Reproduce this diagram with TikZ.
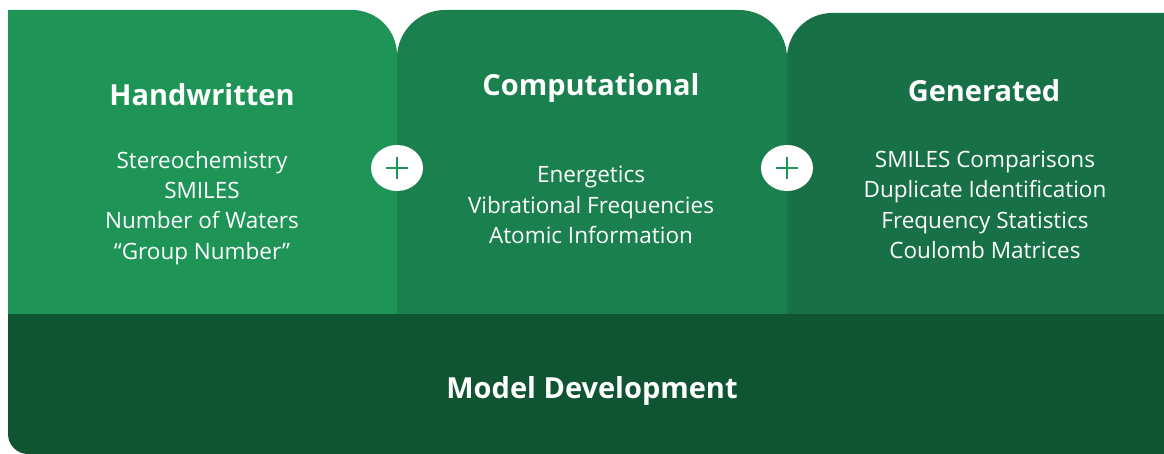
\documentclass[tikz,border=0pt]{standalone}
\usepackage{fontspec}
\setmainfont{Open Sans}
\usepackage{tikz}

\definecolor{handgreen}{RGB}{30,148,87}
\definecolor{compgreen}{RGB}{26,128,78}
\definecolor{gengreen}{RGB}{23,112,70}
\definecolor{modelgreen}{RGB}{15,85,50}

\begin{document}
\begin{tikzpicture}[x=1pt,y=-1pt,
  title/.style={text=white,font=\fontsize{29}{32}\selectfont\bfseries},
  items/.style={text=white,align=center,font=\fontsize{22.5}{30.3}\selectfont},
  plussign/.style={line width=2.7pt,handgreen}]
\newcommand{\seamA}{397}
\newcommand{\seamB}{787}
\newcommand{\panelbot}{314}
\newcommand{\plusy}{168}

\useasboundingbox (0,0) rectangle (1164,454);

\fill [gengreen] (\seamB,\panelbot) -- (\seamB,58) arc[start angle=180,end angle=270,radius=45] -- (1164,13) -- (1164,\panelbot) -- cycle;
\fill [compgreen] (\seamA,\panelbot) -- (\seamA,58) arc[start angle=180,end angle=270,radius=48] -- (739,10) arc[start angle=-90,end angle=0,radius=48] -- (\seamB,\panelbot) -- cycle;
\fill [handgreen] (8,\panelbot) -- (8,10) -- (352,10) arc[start angle=-90,end angle=0,radius=45] -- (\seamA,\panelbot) -- cycle;
\fill [modelgreen] (8,\panelbot) -- (1164,\panelbot) -- (1164,454) -- (28,454) arc[start angle=90,end angle=180,radius=20] -- cycle;

\fill [white] (\seamA,\plusy) ellipse [x radius=26pt,y radius=23pt];
\draw [plussign] (\seamA-11,\plusy) -- (\seamA+11,\plusy) (\seamA,\plusy-11) -- (\seamA,\plusy+11);
\fill [white] (\seamB,\plusy) ellipse [x radius=26pt,y radius=23pt];
\draw [plussign] (\seamB-11,\plusy) -- (\seamB+11,\plusy) (\seamB,\plusy-11) -- (\seamB,\plusy+11);

\node [title] (hand) at (202,95) {Handwritten};
\node [items] (handlist) at (202,208) {Stereochemistry\\SMILES\\Number of Waters\\“Group Number”};
\node [title] (comp) at (591,88) {Computational};
\node [items] (complist) at (591,205) {Energetics\\Vibrational Frequencies\\Atomic Information};
\node [title] (gen) at (984,91) {Generated};
\node [items] (genlist) at (985,205) {SMILES Comparisons\\Duplicate Identification\\Frequency Statistics\\Coulomb Matrices};
\node [title] (model) at (592,391) {Model Development};
\end{tikzpicture}
\end{document}
